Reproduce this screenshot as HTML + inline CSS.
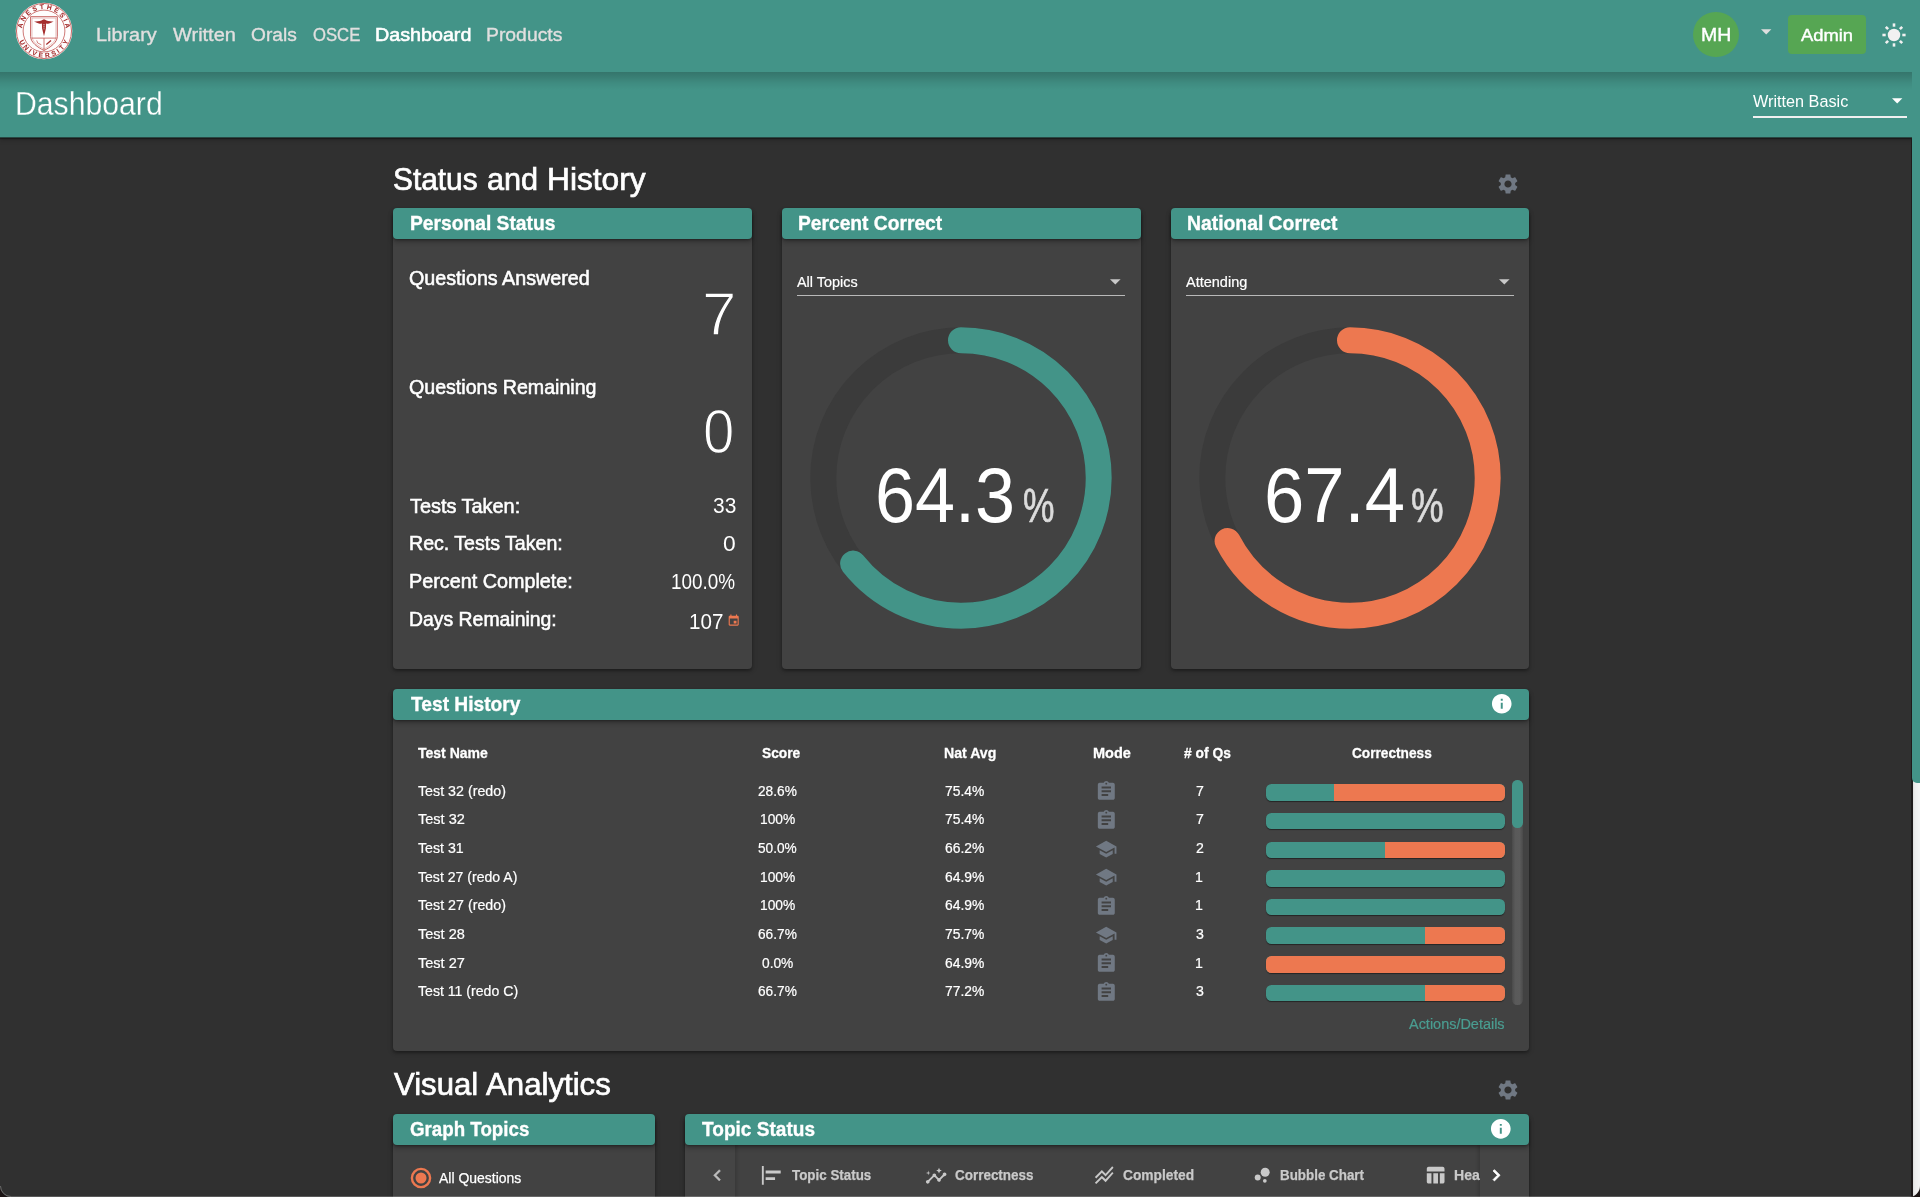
<!DOCTYPE html>
<html lang="en"><head><meta charset="utf-8"><title>Dashboard</title>
<style>
html,body{margin:0;padding:0;background:#303030;}
body{width:1920px;height:1197px;overflow:hidden;position:relative;font-family:"Liberation Sans",sans-serif;color:#fff;}
#app{position:absolute;left:0;top:0;width:1920px;height:1197px;overflow:hidden;background:#303030;}
.t{position:absolute;white-space:nowrap;transform-origin:0 50%;display:block;margin:0;padding:0;font-weight:400;}
.ic{position:absolute;display:block;overflow:visible;}
.abs{position:absolute;display:block;}
nav{position:absolute;left:0;top:0;width:1914px;height:72px;background:#439488;z-index:3;}
header{position:absolute;left:0;top:72px;width:1914px;height:65px;background:#439488;z-index:2;box-shadow:0 1px 0 rgba(40,72,67,1),0 2px 1px rgba(0,0,0,.35),0 3px 5px rgba(0,0,0,.22);}
.hd{position:absolute;background:#439488;border-radius:4px;box-shadow:0 3px 5px rgba(0,0,0,.28),0 1px 2px rgba(0,0,0,.25);z-index:1;}
.card{position:absolute;background:#424242;border-radius:4px;box-shadow:0 2px 3px rgba(0,0,0,.30),0 1px 6px rgba(0,0,0,.16);}
.bar{position:absolute;height:16.6px;border-radius:5.5px;overflow:hidden;background:#439488;box-shadow:0 1px 1px rgba(0,0,0,.45);}
.bar i{position:absolute;right:0;top:0;bottom:0;background:#ED7850;display:block;}
.layer{position:absolute;left:0;top:0;width:1920px;height:1197px;z-index:5;pointer-events:none;will-change:transform;}
</style></head><body><div id="app">

<nav></nav><header></header>
<div class="abs" style="left:0;top:72px;width:1912.6px;height:18px;z-index:3;background:linear-gradient(180deg,rgba(0,0,0,.21) 0,rgba(0,0,0,.14) 30%,rgba(0,0,0,.06) 62%,rgba(0,0,0,0) 100%)"></div>
<div class="abs" style="left:1912px;top:770px;width:8px;height:430px;background:linear-gradient(90deg,#d4d4d4 0,#ececec 35%,#f4f4f4 100%);z-index:6"></div>
<div class="abs" style="left:1911.2px;top:138px;width:1.4px;height:1060px;background:#1e1a1a;z-index:6"></div>
<div class="abs" style="left:1912.3px;top:-6px;width:9px;height:789.4px;background:#439488;border-radius:0 0 0 5px;z-index:7"></div>
<main>
<section class="card" style="left:393.00px;top:212px;width:358.80px;height:456.5px"></section>
<div class="hd" style="left:393.00px;top:207.6px;width:358.80px;height:31.4px"></div>
<section class="card" style="left:781.80px;top:212px;width:358.80px;height:456.5px"></section>
<div class="hd" style="left:781.80px;top:207.6px;width:358.80px;height:31.4px"></div>
<section class="card" style="left:1170.60px;top:212px;width:358.80px;height:456.5px"></section>
<div class="hd" style="left:1170.60px;top:207.6px;width:358.80px;height:31.4px"></div>
<section class="card" style="left:393px;top:693px;width:1135.6px;height:357.6px"></section>
<div class="hd" style="left:393px;top:688.7px;width:1135.6px;height:31.4px"></div>
<section class="card" style="left:393px;top:1118px;width:261.6px;height:120px"></section>
<div class="hd" style="left:393px;top:1114px;width:261.6px;height:30.8px"></div>
<section class="card" style="left:684.6px;top:1118px;width:844px;height:120px"></section>
<div class="abs" style="left:684.6px;top:1144px;width:50px;height:60px;background:#454545;box-shadow:2px 0 3px rgba(0,0,0,.15)"></div>
<div class="abs" style="left:1479.6px;top:1144px;width:49px;height:60px;background:#454545;box-shadow:-2px 0 3px rgba(0,0,0,.15)"></div>
<div class="hd" style="left:684.6px;top:1114px;width:844px;height:30.8px"></div>
<svg class="ic" style="left:801.00px;top:317.80px" width="320" height="320" viewBox="-160 -160 320 320"><circle r="137.70" fill="none" stroke="#3b3b3b" stroke-width="26.0"/><circle r="137.70" fill="none" stroke="#439488" stroke-width="26.0" stroke-linecap="round" stroke-dasharray="556.32 865.19" transform="rotate(-90)"/></svg>
<svg class="ic" style="left:1190.30px;top:317.80px" width="320" height="320" viewBox="-160 -160 320 320"><circle r="137.70" fill="none" stroke="#3b3b3b" stroke-width="26.0"/><circle r="137.70" fill="none" stroke="#ED7850" stroke-width="26.0" stroke-linecap="round" stroke-dasharray="583.14 865.19" transform="rotate(-90)"/></svg>
<div class="abs" style="left:797.0px;top:295.4px;width:328.3px;height:1px;background:#b9b9b9"></div>
<svg class="ic" style="left:1110.20px;top:279.2px" width="10.6" height="5.6" viewBox="0 0 10 5"><path d="M0 0h10L5 5z" fill="#c9c9c9"/></svg>
<div class="abs" style="left:1185.8px;top:295.4px;width:328.3px;height:1px;background:#b9b9b9"></div>
<svg class="ic" style="left:1499.00px;top:279.2px" width="10.6" height="5.6" viewBox="0 0 10 5"><path d="M0 0h10L5 5z" fill="#c9c9c9"/></svg>
<div class="abs" style="left:1753px;top:116px;width:154px;height:2px;background:#f0f0f0;z-index:4"></div>
<svg class="ic" style="left:1892.2px;top:98.3px;z-index:4" width="10.4" height="5.6" viewBox="0 0 10 5"><path d="M0 0h10L5 5z" fill="#fff"/></svg>
<svg class="ic" style="left:1496.30px;top:172.30px" width="24.00" height="24.00" viewBox="0 0 24 24"><path fill="#707883" d="M19.14 12.94c.04-.3.06-.61.06-.94 0-.32-.02-.64-.07-.94l2.03-1.58c.18-.14.23-.41.12-.61l-1.92-3.32c-.12-.22-.37-.29-.59-.22l-2.39.96c-.5-.38-1.03-.7-1.62-.94l-.36-2.54c-.04-.24-.24-.41-.48-.41h-3.84c-.24 0-.43.17-.47.41l-.36 2.54c-.59.24-1.13.57-1.62.94l-2.39-.96c-.22-.08-.47 0-.59.22L2.74 8.87c-.12.21-.08.47.12.61l2.03 1.58c-.05.3-.09.63-.09.94s.02.64.07.94l-2.03 1.58c-.18.14-.23.41-.12.61l1.92 3.32c.12.22.37.29.59.22l2.39-.96c.5.38 1.03.7 1.62.94l.36 2.54c.05.24.24.41.48.41h3.84c.24 0 .44-.17.47-.41l.36-2.54c.59-.24 1.13-.56 1.62-.94l2.39.96c.22.08.47 0 .59-.22l1.92-3.32c.12-.22.07-.47-.12-.61l-2.01-1.58zM12 15.6c-1.98 0-3.6-1.62-3.6-3.6s1.62-3.6 3.6-3.6 3.6 1.62 3.6 3.6-1.62 3.6-3.6 3.6z"/></svg>
<svg class="ic" style="left:1496.30px;top:1078.40px" width="24.00" height="24.00" viewBox="0 0 24 24"><path fill="#707883" d="M19.14 12.94c.04-.3.06-.61.06-.94 0-.32-.02-.64-.07-.94l2.03-1.58c.18-.14.23-.41.12-.61l-1.92-3.32c-.12-.22-.37-.29-.59-.22l-2.39.96c-.5-.38-1.03-.7-1.62-.94l-.36-2.54c-.04-.24-.24-.41-.48-.41h-3.84c-.24 0-.43.17-.47.41l-.36 2.54c-.59.24-1.13.57-1.62.94l-2.39-.96c-.22-.08-.47 0-.59.22L2.74 8.87c-.12.21-.08.47.12.61l2.03 1.58c-.05.3-.09.63-.09.94s.02.64.07.94l-2.03 1.58c-.18.14-.23.41-.12.61l1.92 3.32c.12.22.37.29.59.22l2.39-.96c.5.38 1.03.7 1.62.94l.36 2.54c.05.24.24.41.48.41h3.84c.24 0 .44-.17.47-.41l.36-2.54c.59-.24 1.13-.56 1.62-.94l2.39.96c.22.08.47 0 .59-.22l1.92-3.32c.12-.22.07-.47-.12-.61l-2.01-1.58zM12 15.6c-1.98 0-3.6-1.62-3.6-3.6s1.62-3.6 3.6-3.6 3.6 1.62 3.6 3.6-1.62 3.6-3.6 3.6z"/></svg>
<svg class="ic" style="z-index:2;left:1489.65px;top:691.75px" width="23.50" height="23.50" viewBox="0 0 24 24"><path fill="#fff" d="M12 2C6.48 2 2 6.48 2 12s4.48 10 10 10 10-4.48 10-10S17.52 2 12 2zm1 15h-2v-6h2v6zm0-8h-2V7h2v2z"/></svg>
<svg class="ic" style="z-index:2;left:1489.20px;top:1116.80px" width="23.60" height="23.60" viewBox="0 0 24 24"><path fill="#fff" d="M12 2C6.48 2 2 6.48 2 12s4.48 10 10 10 10-4.48 10-10S17.52 2 12 2zm1 15h-2v-6h2v6zm0-8h-2V7h2v2z"/></svg>
<svg class="ic" style="left:726.70px;top:613.56px" width="13.40" height="13.40" viewBox="0 0 24 24"><path fill="#ED7850" d="M17 12h-5v5h5v-5zM16 1v2H8V1H6v2H5c-1.11 0-1.99.9-1.99 2L3 19c0 1.1.89 2 2 2h14c1.1 0 2-.9 2-2V5c0-1.1-.9-2-2-2h-1V1h-2zm3 18H5V8h14v11z"/></svg>
<svg class="ic" style="left:1094.70px;top:780.04px" width="22.60" height="22.60" viewBox="0 0 24 24"><path fill="#707883" d="M19 3h-4.18C14.4 1.84 13.3 1 12 1c-1.3 0-2.4.84-2.82 2H5c-1.1 0-2 .9-2 2v14c0 1.1.9 2 2 2h14c1.1 0 2-.9 2-2V5c0-1.1-.9-2-2-2zm-7 0c.55 0 1 .45 1 1s-.45 1-1 1-1-.45-1-1 .45-1 1-1zm2 14H7v-2h7v2zm3-4H7v-2h10v2zm0-4H7V7h10v2z"/></svg>
<div class="bar" style="left:1265.6px;top:784.20px;width:239px"><i style="width:71.40%"></i></div>
<svg class="ic" style="left:1094.70px;top:808.69px" width="22.60" height="22.60" viewBox="0 0 24 24"><path fill="#707883" d="M19 3h-4.18C14.4 1.84 13.3 1 12 1c-1.3 0-2.4.84-2.82 2H5c-1.1 0-2 .9-2 2v14c0 1.1.9 2 2 2h14c1.1 0 2-.9 2-2V5c0-1.1-.9-2-2-2zm-7 0c.55 0 1 .45 1 1s-.45 1-1 1-1-.45-1-1 .45-1 1-1zm2 14H7v-2h7v2zm3-4H7v-2h10v2zm0-4H7V7h10v2z"/></svg>
<div class="bar" style="left:1265.6px;top:812.85px;width:239px"></div>
<svg class="ic" style="left:1094.60px;top:837.80px" width="22.40" height="22.40" viewBox="0 0 24 24"><path fill="#707883" d="M5 13.18v4L12 21l7-3.82v-4L12 17l-7-3.82zM12 3L1 9l11 6 9-4.91V17h2V9L12 3z"/></svg>
<div class="bar" style="left:1265.6px;top:841.50px;width:239px"><i style="width:50.00%"></i></div>
<svg class="ic" style="left:1094.60px;top:866.45px" width="22.40" height="22.40" viewBox="0 0 24 24"><path fill="#707883" d="M5 13.18v4L12 21l7-3.82v-4L12 17l-7-3.82zM12 3L1 9l11 6 9-4.91V17h2V9L12 3z"/></svg>
<div class="bar" style="left:1265.6px;top:870.15px;width:239px"></div>
<svg class="ic" style="left:1094.70px;top:894.64px" width="22.60" height="22.60" viewBox="0 0 24 24"><path fill="#707883" d="M19 3h-4.18C14.4 1.84 13.3 1 12 1c-1.3 0-2.4.84-2.82 2H5c-1.1 0-2 .9-2 2v14c0 1.1.9 2 2 2h14c1.1 0 2-.9 2-2V5c0-1.1-.9-2-2-2zm-7 0c.55 0 1 .45 1 1s-.45 1-1 1-1-.45-1-1 .45-1 1-1zm2 14H7v-2h7v2zm3-4H7v-2h10v2zm0-4H7V7h10v2z"/></svg>
<div class="bar" style="left:1265.6px;top:898.80px;width:239px"></div>
<svg class="ic" style="left:1094.60px;top:923.75px" width="22.40" height="22.40" viewBox="0 0 24 24"><path fill="#707883" d="M5 13.18v4L12 21l7-3.82v-4L12 17l-7-3.82zM12 3L1 9l11 6 9-4.91V17h2V9L12 3z"/></svg>
<div class="bar" style="left:1265.6px;top:927.45px;width:239px"><i style="width:33.30%"></i></div>
<svg class="ic" style="left:1094.70px;top:951.94px" width="22.60" height="22.60" viewBox="0 0 24 24"><path fill="#707883" d="M19 3h-4.18C14.4 1.84 13.3 1 12 1c-1.3 0-2.4.84-2.82 2H5c-1.1 0-2 .9-2 2v14c0 1.1.9 2 2 2h14c1.1 0 2-.9 2-2V5c0-1.1-.9-2-2-2zm-7 0c.55 0 1 .45 1 1s-.45 1-1 1-1-.45-1-1 .45-1 1-1zm2 14H7v-2h7v2zm3-4H7v-2h10v2zm0-4H7V7h10v2z"/></svg>
<div class="bar" style="left:1265.6px;top:956.10px;width:239px"><i style="width:100.00%"></i></div>
<svg class="ic" style="left:1094.70px;top:980.59px" width="22.60" height="22.60" viewBox="0 0 24 24"><path fill="#707883" d="M19 3h-4.18C14.4 1.84 13.3 1 12 1c-1.3 0-2.4.84-2.82 2H5c-1.1 0-2 .9-2 2v14c0 1.1.9 2 2 2h14c1.1 0 2-.9 2-2V5c0-1.1-.9-2-2-2zm-7 0c.55 0 1 .45 1 1s-.45 1-1 1-1-.45-1-1 .45-1 1-1zm2 14H7v-2h7v2zm3-4H7v-2h10v2zm0-4H7V7h10v2z"/></svg>
<div class="bar" style="left:1265.6px;top:984.75px;width:239px"><i style="width:33.30%"></i></div>
<div class="abs" style="left:1512.4px;top:780px;width:10.4px;height:225px;border-radius:5.2px;background:linear-gradient(90deg,#4a4a4a 0,#5a5a5a 30%,#5b5b5b 70%,#4a4a4a 100%)"></div>
<div class="abs" style="left:1512.4px;top:780px;width:10.4px;height:47.6px;border-radius:5.2px;background:#439488"></div>
<svg class="ic" style="left:408.8px;top:1166.1px" width="24" height="24" viewBox="0 0 24 24"><circle cx="12" cy="12" r="9.1" fill="none" stroke="#ED7850" stroke-width="2.4"/><circle cx="12" cy="12" r="5.5" fill="#ED7850"/></svg>
<svg class="ic" style="left:705.98px;top:1163.70px" width="22.60" height="22.60" viewBox="0 0 24 24"><path stroke="#bdbdbd" stroke-width="0.5" fill="#bdbdbd" d="M15.41 7.41L14 6l-6 6 6 6 1.41-1.41L10.83 12z"/></svg>
<svg class="ic" style="left:760.40px;top:1164.30px" width="22.60" height="22.60" viewBox="0 0 24 24"><path fill="#c9c9c9" d="M4 22H2V2h2v20zM22 7H6v3h16V7zm-6 7H6v3h10v-3z"/></svg>
<svg class="ic" style="left:925.20px;top:1164.77px" width="22.40" height="22.40" viewBox="0 0 24 24"><path fill="#c9c9c9" d="M21 8c-1.45 0-2.26 1.44-1.93 2.51l-3.55 3.56c-.3-.09-.74-.09-1.04 0l-2.55-2.55C12.27 10.45 11.46 9 10 9c-1.45 0-2.27 1.44-1.93 2.52l-4.56 4.55C2.44 15.74 1 16.55 1 18c0 1.1.9 2 2 2 1.45 0 2.26-1.44 1.93-2.51l4.55-4.56c.3.09.74.09 1.04 0l2.55 2.55C12.73 16.55 13.54 18 15 18c1.45 0 2.27-1.44 1.93-2.52l3.56-3.55c1.07.33 2.51-.48 2.51-1.93 0-1.1-.9-2-2-2zM15 9l.94-2.07L18 6l-2.06-.93L15 3l-.92 2.07L12 6l2.08.93zM3.5 11L4 9l2-.5L4 8l-.5-2L3 8l-2 .5L3 9z"/></svg>
<svg class="ic" style="left:1093.00px;top:1164.10px" width="22.40" height="22.40" viewBox="0 0 24 24"><path fill="#c9c9c9" d="M2 19.99l7.5-7.51 4 4 7.09-7.97L22 9.92l-8.5 9.56-4-4-6 6.01-1.5-1.5zm1.5-4.5l6-6.01 4 4L22 3.92l-1.41-1.41-7.09 7.97-4-4L2 13.99l1.5 1.5z"/></svg>
<svg class="ic" style="left:1250.60px;top:1164.00px" width="22.4" height="22.4" viewBox="0 0 24 24"><circle cx="7.2" cy="14.4" r="3.2" fill="#c9c9c9"/><circle cx="14.8" cy="18" r="2" fill="#c9c9c9"/><circle cx="15.2" cy="8.8" r="4.8" fill="#c9c9c9"/></svg>
<svg class="ic" style="left:1423.63px;top:1164.30px" width="22.40" height="22.40" viewBox="0 0 24 24"><path fill="#c9c9c9" d="M10 10.02h5V21h-5zM17 21h3c1.1 0 2-.9 2-2v-9h-5v11zm3-18H5c-1.1 0-2 .9-2 2v3h19V5c0-1.1-.9-2-2-2zM3 19c0 1.1.9 2 2 2h3V10H3v9z"/></svg>
<svg class="ic" style="left:1484.92px;top:1164.10px" width="22.60" height="22.60" viewBox="0 0 24 24"><path stroke="#fff" stroke-width="0.9" fill="#fff" d="M10 6L8.59 7.41 13.17 12l-4.58 4.59L10 18l6-6z"/></svg>
</main>
<div class="layer">
<svg class="ic" style="left:13.70px;top:1.15px" width="60" height="60" viewBox="-30 -30 60 60"><circle r="28.3" fill="#fefdfd"/><circle r="27.5" fill="none" stroke="#c96a68" stroke-width="1"/><circle r="20.9" fill="none" stroke="#c96a68" stroke-width="0.9"/><text transform="rotate(-77.00) translate(0,-21.9)" text-anchor="middle" font-family="Liberation Sans" font-weight="700" font-size="6.7" fill="#a52d2d" stroke="#a52d2d" stroke-width="0.05">A</text><text transform="rotate(-58.99) translate(0,-21.9)" text-anchor="middle" font-family="Liberation Sans" font-weight="700" font-size="6.7" fill="#a52d2d" stroke="#a52d2d" stroke-width="0.05">N</text><text transform="rotate(-40.98) translate(0,-21.9)" text-anchor="middle" font-family="Liberation Sans" font-weight="700" font-size="6.7" fill="#a52d2d" stroke="#a52d2d" stroke-width="0.05">E</text><text transform="rotate(-22.96) translate(0,-21.9)" text-anchor="middle" font-family="Liberation Sans" font-weight="700" font-size="6.7" fill="#a52d2d" stroke="#a52d2d" stroke-width="0.05">S</text><text transform="rotate(-4.95) translate(0,-21.9)" text-anchor="middle" font-family="Liberation Sans" font-weight="700" font-size="6.7" fill="#a52d2d" stroke="#a52d2d" stroke-width="0.05">T</text><text transform="rotate(13.06) translate(0,-21.9)" text-anchor="middle" font-family="Liberation Sans" font-weight="700" font-size="6.7" fill="#a52d2d" stroke="#a52d2d" stroke-width="0.05">H</text><text transform="rotate(31.07) translate(0,-21.9)" text-anchor="middle" font-family="Liberation Sans" font-weight="700" font-size="6.7" fill="#a52d2d" stroke="#a52d2d" stroke-width="0.05">E</text><text transform="rotate(49.08) translate(0,-21.9)" text-anchor="middle" font-family="Liberation Sans" font-weight="700" font-size="6.7" fill="#a52d2d" stroke="#a52d2d" stroke-width="0.05">S</text><text transform="rotate(63.04) translate(0,-21.9)" text-anchor="middle" font-family="Liberation Sans" font-weight="700" font-size="6.7" fill="#a52d2d" stroke="#a52d2d" stroke-width="0.05">I</text><text transform="rotate(77.00) translate(0,-21.9)" text-anchor="middle" font-family="Liberation Sans" font-weight="700" font-size="6.7" fill="#a52d2d" stroke="#a52d2d" stroke-width="0.05">A</text><text transform="rotate(62.50) translate(0,26.6)" text-anchor="middle" font-family="Liberation Sans" font-weight="700" font-size="6.7" fill="#a52d2d" stroke="#a52d2d" stroke-width="0.05">U</text><text transform="rotate(47.07) translate(0,26.6)" text-anchor="middle" font-family="Liberation Sans" font-weight="700" font-size="6.7" fill="#a52d2d" stroke="#a52d2d" stroke-width="0.05">N</text><text transform="rotate(35.11) translate(0,26.6)" text-anchor="middle" font-family="Liberation Sans" font-weight="700" font-size="6.7" fill="#a52d2d" stroke="#a52d2d" stroke-width="0.05">I</text><text transform="rotate(23.15) translate(0,26.6)" text-anchor="middle" font-family="Liberation Sans" font-weight="700" font-size="6.7" fill="#a52d2d" stroke="#a52d2d" stroke-width="0.05">V</text><text transform="rotate(7.72) translate(0,26.6)" text-anchor="middle" font-family="Liberation Sans" font-weight="700" font-size="6.7" fill="#a52d2d" stroke="#a52d2d" stroke-width="0.05">E</text><text transform="rotate(-7.72) translate(0,26.6)" text-anchor="middle" font-family="Liberation Sans" font-weight="700" font-size="6.7" fill="#a52d2d" stroke="#a52d2d" stroke-width="0.05">R</text><text transform="rotate(-23.15) translate(0,26.6)" text-anchor="middle" font-family="Liberation Sans" font-weight="700" font-size="6.7" fill="#a52d2d" stroke="#a52d2d" stroke-width="0.05">S</text><text transform="rotate(-35.11) translate(0,26.6)" text-anchor="middle" font-family="Liberation Sans" font-weight="700" font-size="6.7" fill="#a52d2d" stroke="#a52d2d" stroke-width="0.05">I</text><text transform="rotate(-47.07) translate(0,26.6)" text-anchor="middle" font-family="Liberation Sans" font-weight="700" font-size="6.7" fill="#a52d2d" stroke="#a52d2d" stroke-width="0.05">T</text><text transform="rotate(-62.50) translate(0,26.6)" text-anchor="middle" font-family="Liberation Sans" font-weight="700" font-size="6.7" fill="#a52d2d" stroke="#a52d2d" stroke-width="0.05">Y</text><path d="M-13.4 -14.3H13.3V5.5C13.3 11.5 6 16.5 0 19.5C-6 16.5 -13.4 11.5 -13.4 5.5Z" fill="#fff" stroke="#c0504e" stroke-width="0.9"/><path d="M-12 -12.9H11.9V5.4C11.9 10.6 5.5 15.2 0 18C-5.5 15.2 -12 10.6 -12 5.4Z" fill="none" stroke="#d99896" stroke-width="0.6"/><path d="M-12.6 7.1H12.6M0 7.1V19" stroke="#c0504e" stroke-width="0.8" fill="none"/><path d="M-10 -9.6C-6 -9.3 -3 -10.2 -1.2 -11.3L0 -11.8L1.2 -11.3C3 -10.2 6 -9.3 9.6 -9.600C6.500 -7.600 3.500 -7.200 2.100 -7.400L1.900 -2.500L0 5.300L-1.900 -2.500L-2.100 -7.400C-3.500 -7.200 -6.500 -7.600 -10 -9.600Z" fill="#a52d2d"/><path d="M-1.1 -6.200h2.200M-0.9 -4.200h1.800M-0.700 -2.200h1.400" stroke="#fff" stroke-width="0.7" opacity="0.75"/><path d="M-7.300 9.400L-6.300 12L-2.600 13.800" stroke="#c0504e" stroke-width="0.7" fill="none"/><path d="M2.300 13.600L7 9.600" stroke="#a52d2d" stroke-width="1.3" fill="none"/></svg>
<div class="abs" style="left:1693.4px;top:12.2px;width:45.2px;height:45.2px;border-radius:50%;background:#56A653"></div>
<svg class="ic" style="left:1761px;top:29.2px" width="10.4" height="5.8" viewBox="0 0 10 5"><path d="M0 0h10L5 5z" fill="#dedede"/></svg>
<div class="abs" style="left:1787.8px;top:15.2px;width:78.2px;height:38.8px;border-radius:4px;background:#56A653"></div>
<svg class="ic" style="left:1880.4px;top:21.4px" width="28" height="28" viewBox="-14 -14 28 28"><circle r="6.25" fill="#f1f1f1"/> <rect x="-1.3" y="-11.6" width="2.6" height="3.3" fill="#f1f1f1" transform="rotate(0)"/> <rect x="-1.3" y="-11.6" width="2.6" height="3.3" fill="#f1f1f1" transform="rotate(45)"/> <rect x="-1.3" y="-11.6" width="2.6" height="3.3" fill="#f1f1f1" transform="rotate(90)"/> <rect x="-1.3" y="-11.6" width="2.6" height="3.3" fill="#f1f1f1" transform="rotate(135)"/> <rect x="-1.3" y="-11.6" width="2.6" height="3.3" fill="#f1f1f1" transform="rotate(180)"/> <rect x="-1.3" y="-11.6" width="2.6" height="3.3" fill="#f1f1f1" transform="rotate(225)"/> <rect x="-1.3" y="-11.6" width="2.6" height="3.3" fill="#f1f1f1" transform="rotate(270)"/> <rect x="-1.3" y="-11.6" width="2.6" height="3.3" fill="#f1f1f1" transform="rotate(315)"/></svg>
</div>
<div class="layer" style="z-index:8">
<span class="t" style="left:95.65px;top:22.84px;font-size:19.20px;line-height:24px;color:#e1dfdf;transform:scaleX(1.0352);-webkit-text-stroke:0.35px #e1dfdf;">Library</span>
<span class="t" style="left:172.50px;top:22.84px;font-size:19.20px;line-height:24px;color:#e1dfdf;transform:scaleX(1.0408);-webkit-text-stroke:0.35px #e1dfdf;">Written</span>
<span class="t" style="left:251.10px;top:22.84px;font-size:19.20px;line-height:24px;color:#e1dfdf;transform:scaleX(0.9973);-webkit-text-stroke:0.35px #e1dfdf;">Orals</span>
<span class="t" style="left:313.42px;top:22.84px;font-size:19.20px;line-height:24px;color:#e1dfdf;transform:scaleX(0.8690);-webkit-text-stroke:0.35px #e1dfdf;">OSCE</span>
<span class="t" style="left:374.76px;top:22.84px;font-size:19.20px;line-height:24px;color:#fff;transform:scaleX(1.0268);-webkit-text-stroke:0.6px #fff;">Dashboard</span>
<span class="t" style="left:486.49px;top:22.84px;font-size:19.20px;line-height:24px;color:#e1dfdf;transform:scaleX(1.0086);-webkit-text-stroke:0.35px #e1dfdf;">Products</span>
<span class="t" style="left:1700.67px;top:23.34px;font-size:18.50px;line-height:23px;color:#fff;transform:scaleX(1.0519);-webkit-text-stroke:0.4px #fff;">MH</span>
<span class="t" style="left:1801.00px;top:24.91px;font-size:16.40px;line-height:20px;color:#fff;transform:scaleX(1.1196);-webkit-text-stroke:0.4px #fff;">Admin</span>
<span class="t" style="left:14.54px;top:82.99px;font-size:33.20px;line-height:42px;color:#fff;transform:scaleX(0.9097);-webkit-text-stroke:0.3px #439488;">Dashboard</span>
<span class="t" style="left:1753.30px;top:91.05px;font-size:16.30px;line-height:20px;color:#fff;transform:scaleX(0.9962);">Written Basic</span>
<span class="t" style="left:392.97px;top:159.58px;font-size:31.50px;line-height:39px;color:#fff;transform:scaleX(0.9481);-webkit-text-stroke:0.7px #fff;">Status</span>
<span class="t" style="left:487.04px;top:159.58px;font-size:31.50px;line-height:39px;color:#fff;transform:scaleX(0.9738);-webkit-text-stroke:0.7px #fff;">and</span>
<span class="t" style="left:547.42px;top:159.58px;font-size:31.50px;line-height:39px;color:#fff;transform:scaleX(1.0058);-webkit-text-stroke:0.7px #fff;">History</span>
<span class="t" style="left:393.90px;top:1064.98px;font-size:31.50px;line-height:39px;color:#fff;transform:scaleX(0.9874);-webkit-text-stroke:0.7px #fff;">Visual</span>
<span class="t" style="left:485.70px;top:1064.98px;font-size:31.50px;line-height:39px;color:#fff;transform:scaleX(0.9899);-webkit-text-stroke:0.7px #fff;">Analytics</span>
<span class="t" style="left:409.72px;top:210.02px;font-size:21.00px;line-height:26px;font-weight:700;color:#fff;transform:scaleX(0.9161);-webkit-text-stroke:0.35px #fff;">Personal Status</span>
<span class="t" style="left:797.92px;top:210.02px;font-size:21.00px;line-height:26px;font-weight:700;color:#fff;transform:scaleX(0.9149);-webkit-text-stroke:0.35px #fff;">Percent Correct</span>
<span class="t" style="left:1186.51px;top:210.02px;font-size:21.00px;line-height:26px;font-weight:700;color:#fff;transform:scaleX(0.9204);-webkit-text-stroke:0.35px #fff;">National Correct</span>
<span class="t" style="left:410.82px;top:690.97px;font-size:21.00px;line-height:26px;font-weight:700;color:#fff;transform:scaleX(0.9136);-webkit-text-stroke:0.35px #fff;">Test History</span>
<span class="t" style="left:409.89px;top:1115.97px;font-size:21.00px;line-height:26px;font-weight:700;color:#fff;transform:scaleX(0.8917);-webkit-text-stroke:0.35px #fff;">Graph Topics</span>
<span class="t" style="left:702.12px;top:1116.32px;font-size:21.00px;line-height:26px;font-weight:700;color:#fff;transform:scaleX(0.9079);-webkit-text-stroke:0.35px #fff;">Topic Status</span>
<span class="t" style="left:408.83px;top:265.18px;font-size:20.40px;line-height:26px;color:#fff;transform:scaleX(0.9662);-webkit-text-stroke:0.6px #fff;text-shadow:0 0 1.2px rgba(0,0,0,.55);">Questions Answered</span>
<span class="t" style="left:701.50px;top:274.68px;font-size:61.50px;line-height:77px;color:#fff;transform:scaleX(1.0060);-webkit-text-stroke:1.3px #424242;">7</span>
<span class="t" style="left:408.83px;top:374.43px;font-size:20.40px;line-height:26px;color:#fff;transform:scaleX(0.9617);-webkit-text-stroke:0.6px #fff;text-shadow:0 0 1.2px rgba(0,0,0,.55);">Questions Remaining</span>
<span class="t" style="left:703.04px;top:392.13px;font-size:62.50px;line-height:78px;color:#fff;transform:scaleX(0.9024);-webkit-text-stroke:1.3px #424242;">0</span>
<span class="t" style="left:409.81px;top:492.63px;font-size:20.40px;line-height:26px;color:#fff;transform:scaleX(0.9756);-webkit-text-stroke:0.6px #fff;text-shadow:0 0 1.2px rgba(0,0,0,.55);">Tests Taken:</span>
<span class="t" style="left:712.61px;top:492.85px;font-size:21.20px;line-height:26px;color:#fff;transform:scaleX(0.9867);">33</span>
<span class="t" style="left:408.66px;top:530.43px;font-size:20.40px;line-height:26px;color:#fff;transform:scaleX(0.9598);-webkit-text-stroke:0.6px #fff;text-shadow:0 0 1.2px rgba(0,0,0,.55);">Rec. Tests Taken:</span>
<span class="t" style="left:723.14px;top:530.65px;font-size:21.20px;line-height:26px;color:#fff;transform:scaleX(1.0784);">0</span>
<span class="t" style="left:408.65px;top:568.43px;font-size:20.40px;line-height:26px;color:#fff;transform:scaleX(0.9699);-webkit-text-stroke:0.6px #fff;text-shadow:0 0 1.2px rgba(0,0,0,.55);">Percent Complete:</span>
<span class="t" style="left:671.47px;top:568.65px;font-size:21.20px;line-height:26px;color:#fff;transform:scaleX(0.8929);">100.0%</span>
<span class="t" style="left:408.68px;top:606.03px;font-size:20.40px;line-height:26px;color:#fff;transform:scaleX(0.9515);-webkit-text-stroke:0.6px #fff;text-shadow:0 0 1.2px rgba(0,0,0,.55);">Days Remaining:</span>
<span class="t" style="left:688.84px;top:608.65px;font-size:21.20px;line-height:26px;color:#fff;transform:scaleX(0.9731);">107</span>
<span class="t" style="left:797.00px;top:272.57px;font-size:14.80px;line-height:18px;color:#fff;transform:scaleX(0.9740);-webkit-text-stroke:0.2px #fff;">All Topics</span>
<span class="t" style="left:1185.80px;top:272.57px;font-size:14.80px;line-height:18px;color:#fff;transform:scaleX(0.9804);-webkit-text-stroke:0.2px #fff;">Attending</span>
<span class="t" style="left:874.83px;top:446.50px;font-size:77.00px;line-height:96px;color:#fff;transform:scaleX(0.9341);">64.3</span>
<span class="t" style="left:1023.49px;top:476.03px;font-size:47.50px;line-height:59px;color:#dcdcdc;transform:scaleX(0.7449);-webkit-text-stroke:0.7px #dcdcdc;">%</span>
<span class="t" style="left:1263.80px;top:446.50px;font-size:77.00px;line-height:96px;color:#fff;transform:scaleX(0.9409);">67.4</span>
<span class="t" style="left:1411.45px;top:476.03px;font-size:47.50px;line-height:59px;color:#dcdcdc;transform:scaleX(0.7728);-webkit-text-stroke:0.7px #dcdcdc;">%</span>
<span class="t" style="left:418.01px;top:743.26px;font-size:15.40px;line-height:19px;font-weight:700;color:#fff;transform:scaleX(0.9110);-webkit-text-stroke:0.3px #fff;">Test Name</span>
<span class="t" style="left:761.94px;top:743.06px;font-size:15.40px;line-height:19px;font-weight:700;color:#fff;transform:scaleX(0.8942);-webkit-text-stroke:0.3px #fff;">Score</span>
<span class="t" style="left:943.68px;top:743.06px;font-size:15.40px;line-height:19px;font-weight:700;color:#fff;transform:scaleX(0.9171);-webkit-text-stroke:0.3px #fff;">Nat Avg</span>
<span class="t" style="left:1092.71px;top:743.06px;font-size:15.40px;line-height:19px;font-weight:700;color:#fff;transform:scaleX(0.9434);-webkit-text-stroke:0.3px #fff;">Mode</span>
<span class="t" style="left:1183.57px;top:743.06px;font-size:15.40px;line-height:19px;font-weight:700;color:#fff;transform:scaleX(0.8992);-webkit-text-stroke:0.3px #fff;"># of Qs</span>
<span class="t" style="left:1351.97px;top:743.06px;font-size:15.40px;line-height:19px;font-weight:700;color:#fff;transform:scaleX(0.8877);-webkit-text-stroke:0.3px #fff;">Correctness</span>
<span class="t" style="left:417.82px;top:780.68px;font-size:15.20px;line-height:19px;color:#fff;transform:scaleX(0.9383);-webkit-text-stroke:0.22px #fff;">Test 32 (redo)</span>
<span class="t" style="left:757.87px;top:780.68px;font-size:15.20px;line-height:19px;color:#fff;transform:scaleX(0.9013);-webkit-text-stroke:0.22px #fff;">28.6%</span>
<span class="t" style="left:945.36px;top:780.68px;font-size:15.20px;line-height:19px;color:#fff;transform:scaleX(0.9121);-webkit-text-stroke:0.22px #fff;">75.4%</span>
<span class="t" style="left:1195.69px;top:780.68px;font-size:15.20px;line-height:19px;color:#fff;transform:scaleX(0.9300);-webkit-text-stroke:0.22px #fff;">7</span>
<span class="t" style="left:417.81px;top:809.33px;font-size:15.20px;line-height:19px;color:#fff;transform:scaleX(0.9572);-webkit-text-stroke:0.22px #fff;">Test 32</span>
<span class="t" style="left:759.80px;top:809.33px;font-size:15.20px;line-height:19px;color:#fff;transform:scaleX(0.9071);-webkit-text-stroke:0.22px #fff;">100%</span>
<span class="t" style="left:945.36px;top:809.33px;font-size:15.20px;line-height:19px;color:#fff;transform:scaleX(0.9121);-webkit-text-stroke:0.22px #fff;">75.4%</span>
<span class="t" style="left:1195.69px;top:809.33px;font-size:15.20px;line-height:19px;color:#fff;transform:scaleX(0.9300);-webkit-text-stroke:0.22px #fff;">7</span>
<span class="t" style="left:417.82px;top:837.98px;font-size:15.20px;line-height:19px;color:#fff;transform:scaleX(0.9344);-webkit-text-stroke:0.22px #fff;">Test 31</span>
<span class="t" style="left:757.96px;top:837.98px;font-size:15.20px;line-height:19px;color:#fff;transform:scaleX(0.8992);-webkit-text-stroke:0.22px #fff;">50.0%</span>
<span class="t" style="left:945.36px;top:837.98px;font-size:15.20px;line-height:19px;color:#fff;transform:scaleX(0.9121);-webkit-text-stroke:0.22px #fff;">66.2%</span>
<span class="t" style="left:1195.69px;top:837.98px;font-size:15.20px;line-height:19px;color:#fff;transform:scaleX(0.9300);-webkit-text-stroke:0.22px #fff;">2</span>
<span class="t" style="left:417.82px;top:866.63px;font-size:15.20px;line-height:19px;color:#fff;transform:scaleX(0.9264);-webkit-text-stroke:0.22px #fff;">Test 27 (redo A)</span>
<span class="t" style="left:759.80px;top:866.63px;font-size:15.20px;line-height:19px;color:#fff;transform:scaleX(0.9071);-webkit-text-stroke:0.22px #fff;">100%</span>
<span class="t" style="left:945.36px;top:866.63px;font-size:15.20px;line-height:19px;color:#fff;transform:scaleX(0.9121);-webkit-text-stroke:0.22px #fff;">64.9%</span>
<span class="t" style="left:1195.16px;top:866.63px;font-size:15.20px;line-height:19px;color:#fff;transform:scaleX(0.9300);-webkit-text-stroke:0.22px #fff;">1</span>
<span class="t" style="left:417.82px;top:895.28px;font-size:15.20px;line-height:19px;color:#fff;transform:scaleX(0.9383);-webkit-text-stroke:0.22px #fff;">Test 27 (redo)</span>
<span class="t" style="left:759.80px;top:895.28px;font-size:15.20px;line-height:19px;color:#fff;transform:scaleX(0.9071);-webkit-text-stroke:0.22px #fff;">100%</span>
<span class="t" style="left:945.36px;top:895.28px;font-size:15.20px;line-height:19px;color:#fff;transform:scaleX(0.9121);-webkit-text-stroke:0.22px #fff;">64.9%</span>
<span class="t" style="left:1195.16px;top:895.28px;font-size:15.20px;line-height:19px;color:#fff;transform:scaleX(0.9300);-webkit-text-stroke:0.22px #fff;">1</span>
<span class="t" style="left:417.81px;top:923.93px;font-size:15.20px;line-height:19px;color:#fff;transform:scaleX(0.9552);-webkit-text-stroke:0.22px #fff;">Test 28</span>
<span class="t" style="left:757.87px;top:923.93px;font-size:15.20px;line-height:19px;color:#fff;transform:scaleX(0.9013);-webkit-text-stroke:0.22px #fff;">66.7%</span>
<span class="t" style="left:945.36px;top:923.93px;font-size:15.20px;line-height:19px;color:#fff;transform:scaleX(0.9121);-webkit-text-stroke:0.22px #fff;">75.7%</span>
<span class="t" style="left:1195.74px;top:923.93px;font-size:15.20px;line-height:19px;color:#fff;transform:scaleX(0.9300);-webkit-text-stroke:0.22px #fff;">3</span>
<span class="t" style="left:417.81px;top:952.58px;font-size:15.20px;line-height:19px;color:#fff;transform:scaleX(0.9572);-webkit-text-stroke:0.22px #fff;">Test 27</span>
<span class="t" style="left:761.55px;top:952.58px;font-size:15.20px;line-height:19px;color:#fff;transform:scaleX(0.9040);-webkit-text-stroke:0.22px #fff;">0.0%</span>
<span class="t" style="left:945.36px;top:952.58px;font-size:15.20px;line-height:19px;color:#fff;transform:scaleX(0.9121);-webkit-text-stroke:0.22px #fff;">64.9%</span>
<span class="t" style="left:1195.16px;top:952.58px;font-size:15.20px;line-height:19px;color:#fff;transform:scaleX(0.9300);-webkit-text-stroke:0.22px #fff;">1</span>
<span class="t" style="left:417.82px;top:981.23px;font-size:15.20px;line-height:19px;color:#fff;transform:scaleX(0.9289);-webkit-text-stroke:0.22px #fff;">Test 11 (redo C)</span>
<span class="t" style="left:757.87px;top:981.23px;font-size:15.20px;line-height:19px;color:#fff;transform:scaleX(0.9013);-webkit-text-stroke:0.22px #fff;">66.7%</span>
<span class="t" style="left:945.36px;top:981.23px;font-size:15.20px;line-height:19px;color:#fff;transform:scaleX(0.9121);-webkit-text-stroke:0.22px #fff;">77.2%</span>
<span class="t" style="left:1195.74px;top:981.23px;font-size:15.20px;line-height:19px;color:#fff;transform:scaleX(0.9300);-webkit-text-stroke:0.22px #fff;">3</span>
<span class="t" style="left:1408.60px;top:1013.83px;font-size:15.20px;line-height:19px;color:#4a9d91;transform:scaleX(0.9517);-webkit-text-stroke:0.2px #4a9d91;">Actions/Details</span>
<span class="t" style="left:439.40px;top:1168.67px;font-size:14.80px;line-height:18px;color:#fff;transform:scaleX(0.9441);-webkit-text-stroke:0.25px #fff;">All Questions</span>
<span class="t" style="left:791.81px;top:1165.30px;font-size:15.00px;line-height:19px;font-weight:700;color:#c9c9c9;transform:scaleX(0.8918);-webkit-text-stroke:0.25px #c9c9c9;">Topic Status</span>
<span class="t" style="left:955.46px;top:1165.30px;font-size:15.00px;line-height:19px;font-weight:700;color:#c9c9c9;transform:scaleX(0.8970);-webkit-text-stroke:0.25px #c9c9c9;">Correctness</span>
<span class="t" style="left:1122.75px;top:1165.30px;font-size:15.00px;line-height:19px;font-weight:700;color:#c9c9c9;transform:scaleX(0.9178);-webkit-text-stroke:0.25px #c9c9c9;">Completed</span>
<span class="t" style="left:1279.61px;top:1165.30px;font-size:15.00px;line-height:19px;font-weight:700;color:#c9c9c9;transform:scaleX(0.8918);-webkit-text-stroke:0.25px #c9c9c9;">Bubble Chart</span>
<span class="t" style="left:1453.76px;top:1165.30px;font-size:15.00px;line-height:19px;font-weight:700;color:#c9c9c9;transform:scaleX(0.9372);-webkit-text-stroke:0.25px #c9c9c9;">Hea</span>
</div>
<div class="abs" style="left:0;top:1196px;width:1920px;height:1px;background:rgba(255,255,255,.20);z-index:9"></div>
<svg class="ic" style="left:0;top:1186px;z-index:10" width="11" height="11" viewBox="0 0 11 11"><path d="M0 0V11H11A11 11 0 0 1 0 0Z" fill="#1b1414"/><path d="M0.500 0A10.500 10.500 0 0 0 11 10.500" fill="none" stroke="#6a6a6a" stroke-width="1"/></svg>
<svg class="ic" style="left:1909px;top:1186px;z-index:10" width="11" height="11" viewBox="0 0 11 11"><path d="M11 0V11H0A11 11 0 0 0 11 0Z" fill="#1b1414"/></svg>
</div></body></html>
